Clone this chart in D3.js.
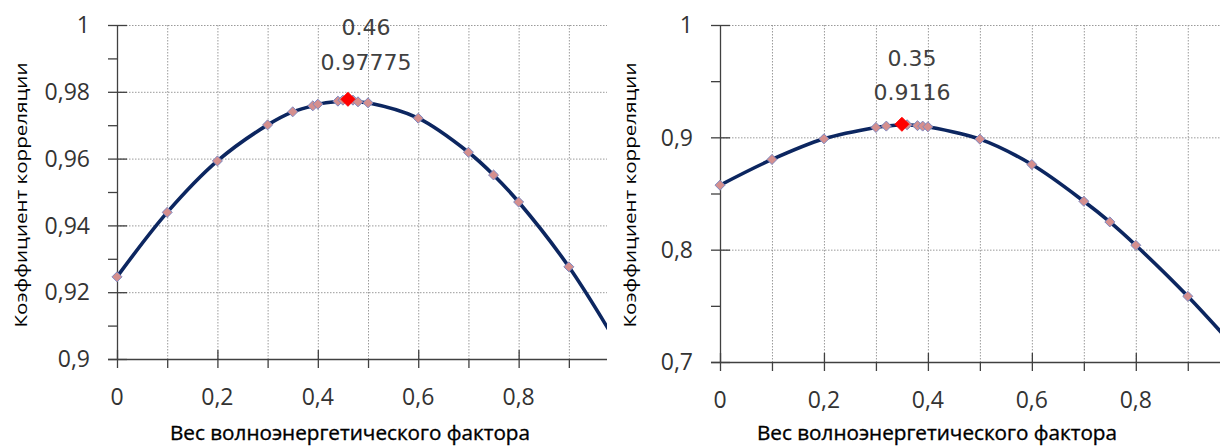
<!DOCTYPE html>
<html>
<head>
<meta charset="utf-8">
<script src="https://cdn.jsdelivr.net/npm/d3@7"></script>
<style>
  body { margin: 0; background: #fff; }
  svg { display: block; }
  .tick-label { font-family: "Open Sans", sans-serif; font-size: 23px; fill: #333; }
  .axis-title { font-family: "Open Sans", sans-serif; fill: #000; }
  .x-title { stroke: #000; stroke-width: 0.35px; }
  .peak-label { font-family: "DejaVu Sans", sans-serif; font-size: 22px; fill: #404040; }
</style>
</head>
<body>
<svg width="1221" height="447"></svg>
<script>
// left panel
var weightsA = [0, 0.1, 0.2, 0.3, 0.35, 0.39, 0.4, 0.44, 0.45, 0.47, 0.48, 0.5, 0.6, 0.7, 0.75, 0.8, 0.9, 1.0];
var corrA    = [0.9246, 0.9439, 0.9593, 0.9701, 0.9740, 0.9758, 0.9763, 0.9772, 0.9775, 0.9775, 0.9770, 0.9767, 0.9721, 0.9619, 0.9551, 0.9470, 0.9276, 0.9036];
var peakA = [0.46, 0.97775];
var yTicksA = [0.9, 0.92, 0.94, 0.96, 0.98, 1];
var yMinorA = [0.91, 0.93, 0.95, 0.97, 0.99];

// right panel
var weightsB = [0, 0.1, 0.2, 0.3, 0.32, 0.36, 0.38, 0.39, 0.4, 0.5, 0.6, 0.7, 0.75, 0.8, 0.9, 1.0];
var corrB    = [0.8574, 0.8803, 0.8987, 0.9088, 0.9100, 0.9112, 0.9104, 0.9100, 0.9094, 0.8984, 0.8758, 0.8431, 0.8247, 0.8039, 0.7585, 0.708];
var peakB = [0.35, 0.9116];
var yTicksB = [0.7, 0.8, 0.9, 1];
var yMinorB = [0.75, 0.85, 0.95];

var xTicks = [0, 0.2, 0.4, 0.6, 0.8];
var xMinor = [0.1, 0.3, 0.5, 0.7, 0.9];
var xGrid = [0.1, 0.2, 0.3, 0.4, 0.5, 0.6, 0.7, 0.8, 0.9];
var xTitle = "Вес волноэнергетического фактора";
var yTitle = "Коэффициент корреляции";

var svg = d3.select("svg");
var comma = function (d) { return String(d).replace('.', ','); };

function drawPanel(cfg) {
  var x = d3.scaleLinear().domain([0, cfg.xMax]).range([cfg.left, cfg.right]);
  var y = d3.scaleLinear().domain(cfg.yDomain).range([cfg.bottom, cfg.top]);
  var g = svg.append("g");

  // grid
  g.selectAll(".hgrid").data(cfg.yGrid).enter().append("line")
    .attr("x1", cfg.left).attr("x2", cfg.right)
    .attr("y1", function (d) { return y(d) + 0.5 }).attr("y2", function (d) { return y(d) + 0.5 })
    .attr("stroke", "#9a9a9a").attr("stroke-width", 1).attr("stroke-dasharray", "1.5,1.5");
  g.selectAll(".vgrid").data(xGrid).enter().append("line")
    .attr("x1", function (d) { return x(d) + 0.5 }).attr("x2", function (d) { return x(d) + 0.5 })
    .attr("y1", cfg.top).attr("y2", cfg.bottom)
    .attr("stroke", "#9a9a9a").attr("stroke-width", 1).attr("stroke-dasharray", "1.5,1.5");

  // axes lines
  var axisCol = "#404040";
  g.append("line").attr("x1", cfg.left + 0.5).attr("x2", cfg.left + 0.5)
    .attr("y1", cfg.top).attr("y2", cfg.bottom).attr("stroke", axisCol).attr("stroke-width", 1.3);
  g.append("line").attr("x1", cfg.left - 9).attr("x2", cfg.right)
    .attr("y1", cfg.bottom + 0.5).attr("y2", cfg.bottom + 0.5).attr("stroke", axisCol).attr("stroke-width", 1.3);

  // y ticks
  g.selectAll(".ymaj").data(cfg.yTicks).enter().append("line")
    .attr("x1", cfg.left - 9).attr("x2", cfg.left + 10)
    .attr("y1", function (d) { return y(d) + 0.5 }).attr("y2", function (d) { return y(d) + 0.5 })
    .attr("stroke", axisCol).attr("stroke-width", 1.3);
  g.selectAll(".ymin").data(cfg.yMinor).enter().append("line")
    .attr("x1", cfg.left - 9).attr("x2", cfg.left)
    .attr("y1", function (d) { return y(d) + 0.5 }).attr("y2", function (d) { return y(d) + 0.5 })
    .attr("stroke", axisCol).attr("stroke-width", 1.3);
  g.selectAll(".ylab").data(cfg.yTicks).enter().append("text")
    .attr("class", "tick-label")
    .attr("x", cfg.left - 27).attr("y", function (d) { return y(d) })
    .attr("dy", "0.36em").attr("text-anchor", "end")
    .text(comma);

  // x ticks
  g.selectAll(".xmaj").data(xTicks).enter().append("line")
    .attr("x1", function (d) { return x(d) + 0.5 }).attr("x2", function (d) { return x(d) + 0.5 })
    .attr("y1", cfg.bottom - 9).attr("y2", cfg.bottom + 9)
    .attr("stroke", axisCol).attr("stroke-width", 1.3);
  g.selectAll(".xmin").data(xMinor).enter().append("line")
    .attr("x1", function (d) { return x(d) + 0.5 }).attr("x2", function (d) { return x(d) + 0.5 })
    .attr("y1", cfg.bottom).attr("y2", cfg.bottom + 9)
    .attr("stroke", axisCol).attr("stroke-width", 1.3);
  g.selectAll(".xlab").data(xTicks).enter().append("text")
    .attr("class", "tick-label")
    .attr("x", function (d) { return x(d) }).attr("y", cfg.bottom + 38)
    .attr("dy", "0.36em").attr("text-anchor", "middle")
    .text(comma);

  // titles
  g.append("text").attr("class", "axis-title x-title")
    .attr("x", cfg.xTitleX).attr("y", 440)
    .attr("text-anchor", "middle").style("font-size", "20px")
    .attr("textLength", 360).attr("lengthAdjust", "spacingAndGlyphs")
    .text(xTitle);
  g.append("text").attr("class", "axis-title")
    .attr("transform", "translate(" + cfg.yTitleX + "," + 195 + ") rotate(-90)")
    .attr("text-anchor", "middle").style("font-size", "16px")
    .attr("textLength", 265).attr("lengthAdjust", "spacingAndGlyphs")
    .text(yTitle);

  // curve
  var clipId = "clip" + cfg.id;
  svg.append("clipPath").attr("id", clipId).append("rect")
    .attr("x", cfg.left).attr("y", 0).attr("width", cfg.right - cfg.left).attr("height", cfg.bottom + 2);
  var pts = cfg.xs.map(function (v, i) { return [v, cfg.ys[i]] });
  var line = d3.line().x(function (d) { return x(d[0]) }).y(function (d) { return y(d[1]) })
    .curve(d3.curveCatmullRom.alpha(0.5));
  g.append("g").attr("clip-path", "url(#" + clipId + ")")
    .append("path").datum(pts)
    .attr("fill", "none").attr("stroke", "#0c2660").attr("stroke-width", 3.6)
    .attr("stroke-linejoin", "round").attr("d", line);

  var diamond = d3.symbol().type(d3.symbolDiamond2);
  var visible = pts.filter(function (d) { return d[0] <= cfg.xMax });
  g.selectAll(".pt").data(visible).enter().append("path")
    .attr("transform", function (d) { return "translate(" + x(d[0]) + "," + y(d[1]) + ")" })
    .attr("d", diamond.size(64)())
    .attr("fill", "#d58f8e").attr("stroke", "#7f88c0").attr("stroke-width", 1);
  g.append("path")
    .attr("transform", "translate(" + x(cfg.peak[0]) + "," + y(cfg.peak[1]) + ")")
    .attr("d", diamond.size(125)())
    .attr("fill", "#ff0000").attr("stroke", "#ff0000").attr("stroke-width", 1);

  // peak labels
  g.append("text").attr("class", "peak-label")
    .attr("x", x(cfg.peak[0]) + cfg.labelDx).attr("y", cfg.labelY1)
    .attr("dy", "0.36em").attr("text-anchor", "middle").text(cfg.peak[0]);
  g.append("text").attr("class", "peak-label")
    .attr("x", x(cfg.peak[0]) + cfg.labelDx).attr("y", cfg.labelY2)
    .attr("dy", "0.36em").attr("text-anchor", "middle").text(cfg.peak[1]);
}

drawPanel({ id: "A", left: 117, right: 607, top: 25, bottom: 359, xMax: 0.976,
  yDomain: [0.9, 1], yTicks: yTicksA, yMinor: yMinorA, yGrid: yTicksA,
  xTitleX: 350, yTitleX: 27,
  xs: weightsA, ys: corrA, peak: peakA, labelDx: 18, labelY1: 27, labelY2: 62 });
drawPanel({ id: "B", left: 720, right: 1220, top: 25, bottom: 362, xMax: 0.962,
  yDomain: [0.7, 1], yTicks: yTicksB, yMinor: yMinorB, yGrid: yTicksB,
  xTitleX: 937, yTitleX: 636,
  xs: weightsB, ys: corrB, peak: peakB, labelDx: 10, labelY1: 58, labelY2: 92 });
</script>
</body>
</html>
